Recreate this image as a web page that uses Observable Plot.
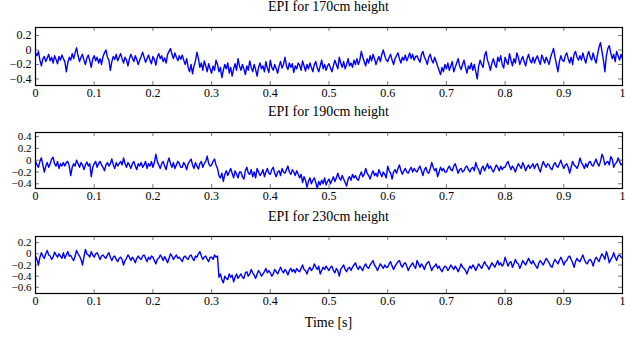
<!DOCTYPE html>
<html><head><meta charset="utf-8">
<script src="https://cdn.jsdelivr.net/npm/d3@7"></script>
<script src="https://cdn.jsdelivr.net/npm/@observablehq/plot@0.6"></script>
<style>
body{margin:0;background:#fff;width:625px;height:338px;position:relative;overflow:hidden;font-family:"Liberation Serif",serif;}
.t{position:absolute;left:35px;width:587px;text-align:center;font-size:14px;line-height:14px;color:#000;white-space:nowrap}
.p{position:absolute;left:0}
.p svg{display:block}
</style></head><body>
<div id="root"></div>
<script>
const dt = 0.0025; // sample spacing in seconds
const titles = ["EPI for 170cm height", "EPI for 190cm height", "EPI for 230cm height"];
const xLabel = "Time [s]";
const xTicks = [0, 0.1, 0.2, 0.3, 0.4, 0.5, 0.6, 0.7, 0.8, 0.9, 1];
const yTicks170 = [0.2, 0, -0.2, -0.4];
const yTicks190 = [0.4, 0.2, 0, -0.2, -0.4];
const yTicks230 = [0.2, 0, -0.2, -0.4, -0.6];

const epi170 = [
-0.04,-0.08,-0.02,-0.14,-0.22,-0.12,-0.09,-0.16,-0.11,-0.06,-0.15,-0.10,-0.18,-0.08,-0.13,-0.19,-0.09,-0.14,-0.07,-0.12,
-0.16,-0.30,-0.18,-0.10,-0.14,-0.05,-0.12,-0.04,0.03,-0.08,-0.16,-0.10,-0.06,-0.14,-0.20,-0.11,-0.07,-0.15,-0.24,-0.12,
-0.08,-0.15,-0.10,-0.18,-0.12,-0.20,-0.09,-0.04,0.00,-0.10,-0.14,-0.28,-0.16,-0.09,-0.13,-0.06,-0.15,-0.10,-0.05,-0.12,
-0.18,-0.10,-0.14,-0.22,-0.12,-0.06,-0.11,-0.16,-0.08,-0.13,-0.20,-0.14,-0.09,-0.03,-0.10,-0.17,-0.12,-0.07,-0.14,-0.19,
-0.09,-0.13,-0.21,-0.10,-0.05,-0.12,-0.08,-0.16,-0.11,-0.18,-0.06,-0.02,0.02,-0.06,-0.12,-0.04,-0.10,-0.15,-0.08,-0.13,
-0.07,-0.14,-0.20,-0.12,-0.24,-0.30,-0.20,-0.33,-0.22,-0.15,-0.03,-0.12,-0.24,-0.18,-0.28,-0.15,-0.22,-0.30,-0.19,-0.26,
-0.32,-0.22,-0.28,-0.14,-0.20,-0.30,-0.24,-0.38,-0.28,-0.20,-0.26,-0.18,-0.32,-0.24,-0.36,-0.26,-0.19,-0.28,-0.12,-0.22,
-0.28,-0.20,-0.26,-0.34,-0.22,-0.28,-0.15,-0.24,-0.30,-0.20,-0.27,-0.36,-0.24,-0.18,-0.26,-0.22,-0.30,-0.16,-0.25,-0.31,
-0.14,-0.24,-0.28,-0.20,-0.26,-0.32,-0.22,-0.16,-0.25,-0.20,-0.10,-0.22,-0.27,-0.18,-0.24,-0.19,-0.31,-0.22,-0.26,-0.18,
-0.21,-0.28,-0.15,-0.22,-0.29,-0.20,-0.26,-0.18,-0.24,-0.30,-0.20,-0.16,-0.25,-0.30,-0.22,-0.14,-0.26,-0.20,-0.28,-0.22,
-0.19,-0.25,-0.30,-0.22,-0.14,-0.20,-0.26,-0.10,-0.18,-0.24,-0.16,-0.26,-0.20,-0.12,-0.22,-0.18,-0.24,-0.14,-0.20,-0.12,
-0.20,-0.14,-0.02,-0.10,-0.16,-0.22,-0.12,-0.18,-0.08,-0.15,-0.06,-0.12,-0.20,-0.14,-0.09,-0.16,-0.06,0.00,-0.08,-0.14,
-0.16,-0.10,-0.06,-0.14,-0.20,-0.12,-0.08,-0.04,-0.12,-0.18,-0.10,-0.14,-0.07,-0.15,-0.10,-0.04,-0.12,-0.06,-0.14,-0.09,
-0.08,-0.13,-0.17,-0.06,-0.02,-0.10,-0.14,-0.20,-0.10,-0.06,-0.14,-0.18,-0.10,-0.16,-0.22,-0.28,-0.34,-0.24,-0.30,-0.20,
-0.26,-0.18,-0.28,-0.22,-0.16,-0.30,-0.24,-0.18,-0.12,-0.22,-0.27,-0.20,-0.14,-0.24,-0.32,-0.22,-0.26,-0.18,-0.28,-0.20,
-0.30,-0.40,-0.22,-0.14,-0.20,-0.24,-0.08,-0.02,-0.14,-0.20,-0.28,-0.18,-0.12,-0.20,-0.24,-0.10,-0.16,-0.08,-0.20,-0.25,
-0.10,-0.16,-0.20,-0.05,-0.14,-0.22,-0.12,-0.18,-0.04,-0.10,-0.20,-0.14,-0.09,-0.16,-0.22,-0.12,-0.06,-0.14,-0.18,-0.10,
-0.18,-0.12,-0.08,-0.15,-0.20,-0.07,-0.12,-0.18,-0.10,-0.15,-0.20,-0.10,-0.04,0.02,-0.10,-0.20,-0.30,-0.16,-0.08,-0.14,
-0.16,-0.08,-0.04,-0.12,-0.18,-0.10,-0.20,-0.06,-0.02,-0.10,-0.14,-0.08,-0.14,-0.04,-0.12,-0.18,-0.08,-0.02,-0.10,-0.14,
-0.04,-0.12,-0.18,-0.06,0.04,0.10,-0.02,-0.14,-0.30,-0.08,0.02,0.06,-0.04,-0.12,-0.06,-0.16,-0.02,-0.08,-0.14,-0.06,
-0.12
];
const epi190 = [
-0.02,-0.08,-0.12,-0.02,0.04,-0.08,-0.20,-0.10,-0.04,-0.12,-0.06,0.02,0.05,-0.06,-0.10,-0.02,-0.14,-0.06,-0.10,-0.04,
-0.10,-0.04,-0.02,-0.10,-0.26,-0.12,-0.06,-0.10,0.00,-0.06,-0.12,-0.04,-0.08,-0.16,-0.08,-0.03,-0.10,-0.06,-0.28,-0.12,
-0.06,-0.02,-0.12,-0.06,-0.02,-0.08,-0.12,-0.18,-0.08,-0.04,-0.10,-0.06,0.02,-0.08,-0.14,-0.04,-0.10,-0.06,-0.02,-0.08,
0.04,-0.06,-0.12,-0.04,-0.08,-0.14,-0.06,-0.02,-0.10,-0.16,-0.06,-0.10,-0.04,-0.12,-0.08,-0.02,-0.14,-0.06,-0.10,-0.02,
-0.12,-0.04,0.10,-0.02,-0.08,-0.14,-0.06,-0.02,-0.10,-0.16,-0.04,0.04,-0.06,-0.12,-0.04,-0.14,-0.08,-0.02,-0.06,-0.12,
-0.12,-0.04,-0.08,-0.16,-0.06,-0.02,0.02,-0.08,-0.14,-0.04,-0.10,-0.15,-0.06,-0.02,-0.12,-0.06,-0.02,0.07,-0.06,-0.10,
-0.08,-0.02,0.02,-0.08,-0.14,-0.26,-0.30,-0.22,-0.36,-0.24,-0.18,-0.26,-0.20,-0.14,-0.22,-0.30,-0.18,-0.24,-0.30,-0.20,
-0.20,-0.28,-0.32,-0.18,-0.12,-0.22,-0.24,-0.16,-0.28,-0.20,-0.30,-0.14,-0.20,-0.26,-0.22,-0.16,-0.28,-0.20,-0.14,-0.22,
-0.24,-0.16,-0.12,-0.22,-0.28,-0.20,-0.18,-0.26,-0.14,-0.20,-0.22,-0.16,-0.10,-0.20,-0.24,-0.16,-0.20,-0.26,-0.18,-0.24,
-0.30,-0.24,-0.38,-0.28,-0.34,-0.46,-0.36,-0.30,-0.40,-0.34,-0.30,-0.38,-0.48,-0.36,-0.42,-0.34,-0.40,-0.30,-0.42,-0.36,
-0.32,-0.40,-0.34,-0.28,-0.36,-0.30,-0.22,-0.30,-0.34,-0.26,-0.32,-0.38,-0.44,-0.32,-0.28,-0.34,-0.24,-0.30,-0.26,-0.32,
-0.34,-0.26,-0.20,-0.28,-0.24,-0.14,-0.22,-0.26,-0.32,-0.24,-0.18,-0.26,-0.22,-0.28,-0.16,-0.22,-0.28,-0.20,-0.24,-0.30,
-0.10,-0.18,-0.22,-0.32,-0.20,-0.16,-0.22,-0.14,-0.08,-0.18,-0.24,-0.18,-0.14,-0.20,-0.22,-0.16,-0.12,-0.20,-0.14,-0.18,
-0.20,-0.14,-0.10,-0.18,-0.26,-0.16,-0.12,-0.20,-0.22,-0.14,-0.04,-0.12,-0.18,-0.14,-0.28,-0.20,-0.12,-0.18,-0.14,-0.20,
-0.20,-0.14,-0.10,-0.16,-0.18,-0.10,-0.06,-0.14,-0.22,-0.16,-0.14,-0.20,-0.18,-0.12,-0.10,-0.16,-0.20,-0.14,-0.12,-0.18,
-0.04,-0.12,-0.16,-0.24,-0.14,-0.10,-0.18,-0.12,-0.06,-0.14,-0.10,-0.16,-0.20,-0.14,-0.08,-0.12,-0.18,-0.10,-0.16,-0.12,
-0.12,-0.06,-0.02,-0.10,-0.16,-0.10,-0.14,-0.20,-0.12,-0.06,-0.10,-0.14,-0.04,-0.10,-0.18,-0.12,-0.08,-0.14,-0.10,-0.06,
-0.14,-0.08,-0.06,-0.14,-0.20,-0.10,-0.02,-0.08,-0.12,-0.06,-0.08,-0.14,-0.16,-0.08,-0.04,-0.10,-0.12,-0.06,0.00,-0.08,
-0.14,-0.08,-0.06,-0.12,-0.22,-0.12,-0.02,-0.08,-0.10,-0.14,-0.08,0.04,-0.04,-0.08,-0.14,-0.06,-0.12,-0.04,-0.02,-0.08,
-0.10,-0.04,0.02,-0.06,-0.10,-0.02,0.10,0.04,-0.08,-0.04,-0.02,-0.08,0.06,0.02,-0.12,-0.06,-0.04,0.04,-0.02,-0.08,
-0.06
];
const epi230 = [
-0.04,-0.10,-0.20,-0.06,0.02,-0.04,-0.08,0.00,0.06,-0.02,-0.04,-0.10,-0.06,0.03,-0.02,-0.06,0.00,-0.04,-0.08,0.02,
-0.08,-0.02,0.04,-0.04,-0.03,-0.08,-0.12,-0.04,0.06,0.00,-0.04,-0.10,-0.20,-0.06,0.08,0.00,-0.02,-0.06,0.04,-0.02,
-0.06,0.00,0.02,-0.04,-0.10,-0.04,-0.02,-0.06,-0.08,-0.02,0.02,-0.06,-0.12,-0.06,-0.04,-0.10,-0.14,-0.08,-0.06,-0.10,
-0.20,-0.12,-0.08,-0.02,-0.06,-0.12,-0.06,-0.10,-0.16,-0.08,-0.04,-0.08,-0.10,-0.04,-0.02,-0.08,-0.14,-0.06,-0.10,-0.04,
-0.06,-0.12,-0.18,-0.10,-0.08,-0.02,-0.06,-0.12,-0.05,-0.10,-0.16,-0.08,0.00,-0.04,-0.10,-0.06,-0.02,-0.08,-0.06,-0.10,
-0.14,-0.06,-0.04,-0.08,-0.10,-0.04,-0.02,-0.08,-0.12,-0.04,-0.06,0.00,0.04,-0.04,-0.10,-0.06,-0.04,-0.10,-0.14,-0.06,
-0.06,-0.10,-0.02,-0.06,-0.04,-0.42,-0.36,-0.46,-0.52,-0.40,-0.44,-0.46,-0.36,-0.42,-0.38,-0.50,-0.42,-0.36,-0.44,-0.40,
-0.36,-0.42,-0.44,-0.34,-0.32,-0.40,-0.36,-0.28,-0.34,-0.38,-0.44,-0.36,-0.30,-0.34,-0.40,-0.36,-0.32,-0.26,-0.34,-0.30,
-0.34,-0.40,-0.36,-0.28,-0.32,-0.36,-0.30,-0.24,-0.30,-0.34,-0.28,-0.32,-0.38,-0.30,-0.26,-0.32,-0.28,-0.34,-0.26,-0.30,
-0.32,-0.26,-0.20,-0.28,-0.30,-0.36,-0.28,-0.24,-0.30,-0.26,-0.18,-0.24,-0.28,-0.22,-0.36,-0.30,-0.24,-0.28,-0.22,-0.26,
-0.30,-0.24,-0.22,-0.30,-0.34,-0.26,-0.30,-0.40,-0.28,-0.24,-0.20,-0.28,-0.32,-0.26,-0.24,-0.30,-0.24,-0.20,-0.16,-0.24,
-0.28,-0.22,-0.26,-0.30,-0.22,-0.18,-0.24,-0.26,-0.20,-0.16,-0.12,-0.20,-0.24,-0.30,-0.24,-0.18,-0.22,-0.26,-0.20,-0.24,
-0.24,-0.18,-0.14,-0.22,-0.28,-0.22,-0.18,-0.14,-0.12,-0.20,-0.24,-0.18,-0.16,-0.22,-0.30,-0.24,-0.20,-0.16,-0.22,-0.26,
-0.12,-0.18,-0.24,-0.18,-0.22,-0.28,-0.20,-0.16,-0.14,-0.22,-0.30,-0.24,-0.22,-0.18,-0.26,-0.22,-0.28,-0.32,-0.26,-0.22,
-0.24,-0.30,-0.26,-0.20,-0.24,-0.28,-0.22,-0.26,-0.32,-0.26,-0.18,-0.24,-0.26,-0.30,-0.36,-0.28,-0.22,-0.26,-0.20,-0.24,
-0.30,-0.24,-0.18,-0.22,-0.26,-0.20,-0.14,-0.20,-0.22,-0.28,-0.22,-0.16,-0.20,-0.24,-0.18,-0.12,-0.20,-0.16,-0.22,-0.18,
-0.06,-0.14,-0.22,-0.16,-0.14,-0.24,-0.18,-0.10,-0.16,-0.18,-0.26,-0.20,-0.12,-0.16,-0.20,-0.14,-0.08,-0.14,-0.18,-0.12,
-0.18,-0.22,-0.26,-0.16,-0.12,-0.16,-0.20,-0.14,-0.08,-0.12,-0.16,-0.22,-0.24,-0.16,-0.10,-0.14,-0.18,-0.12,-0.06,-0.12,
-0.20,-0.14,-0.12,-0.06,-0.04,-0.10,-0.16,-0.24,-0.14,-0.08,-0.12,-0.14,-0.08,-0.02,-0.10,-0.16,-0.18,-0.12,-0.10,-0.14,
-0.22,-0.12,-0.06,-0.10,-0.14,-0.06,0.00,-0.04,-0.10,0.04,-0.04,-0.16,-0.10,-0.06,0.02,-0.06,-0.12,-0.04,-0.02,-0.06,
-0.08
];

const panels = [
  {title: titles[0], values: epi170, yDomain: [-0.49, 0.31], yTicks: yTicks170, top: 22, frameH: 58, titleTop: 0, yFont: 12},
  {title: titles[1], values: epi190, yDomain: [-0.48, 0.47], yTicks: yTicks190, top: 127, frameH: 56, titleTop: 105, yFont: 11},
  {title: titles[2], values: epi230, yDomain: [-0.71, 0.31], yTicks: yTicks230, top: 231, frameH: 57, titleTop: 210, yFont: 11}
];

const fmt = d => (d < 0 ? "\u2212" : "") + String(+Math.abs(d).toFixed(1));
const root = document.getElementById("root");
const W = 587;

for (const p of panels) {
  const data = p.values.map((v, i) => ({t: i * dt, v}));
  const t = document.createElement("div");
  t.className = "t"; t.style.top = p.titleTop + "px"; t.textContent = p.title;
  root.appendChild(t);
  const chart = Plot.plot({
    width: 625, height: p.frameH + 30,
    marginLeft: 35, marginRight: 3, marginTop: 5, marginBottom: 25,
    style: {fontFamily: "Liberation Serif, serif", fontSize: "12px", color: "black", background: "white", overflow: "visible"},
    x: {domain: [0, 1], label: null},
    y: {domain: p.yDomain, label: null},
    marks: [
      Plot.lineY(data, {x: "t", y: "v", stroke: "#0000ff", strokeWidth: 1.4}),
      Plot.tickX(xTicks, {x: d => d, insetBottom: p.frameH - 4, stroke: "#555", strokeWidth: 0.8}),
      Plot.tickX(xTicks, {x: d => d, insetTop: p.frameH - 4, stroke: "#555", strokeWidth: 0.8}),
      Plot.tickY(p.yTicks, {y: d => d, insetRight: W - 4, stroke: "#555", strokeWidth: 0.8}),
      Plot.tickY(p.yTicks, {y: d => d, insetLeft: W - 4, stroke: "#555", strokeWidth: 0.8}),
      Plot.axisX(xTicks, {tickSize: 0, tickPadding: 3, tickFormat: fmt, fontSize: 12}),
      Plot.axisY(p.yTicks, {tickSize: 0, tickPadding: 4, tickFormat: fmt, fontSize: p.yFont}),
      Plot.frame({stroke: "black", strokeWidth: 1.2})
    ]
  });
  const wrap = document.createElement("div");
  wrap.className = "p"; wrap.style.top = p.top + "px";
  wrap.appendChild(chart);
  root.appendChild(wrap);
}
const xl = document.createElement("div");
xl.className = "t"; xl.style.top = "316px"; xl.textContent = xLabel;
root.appendChild(xl);
</script>
</body></html>
